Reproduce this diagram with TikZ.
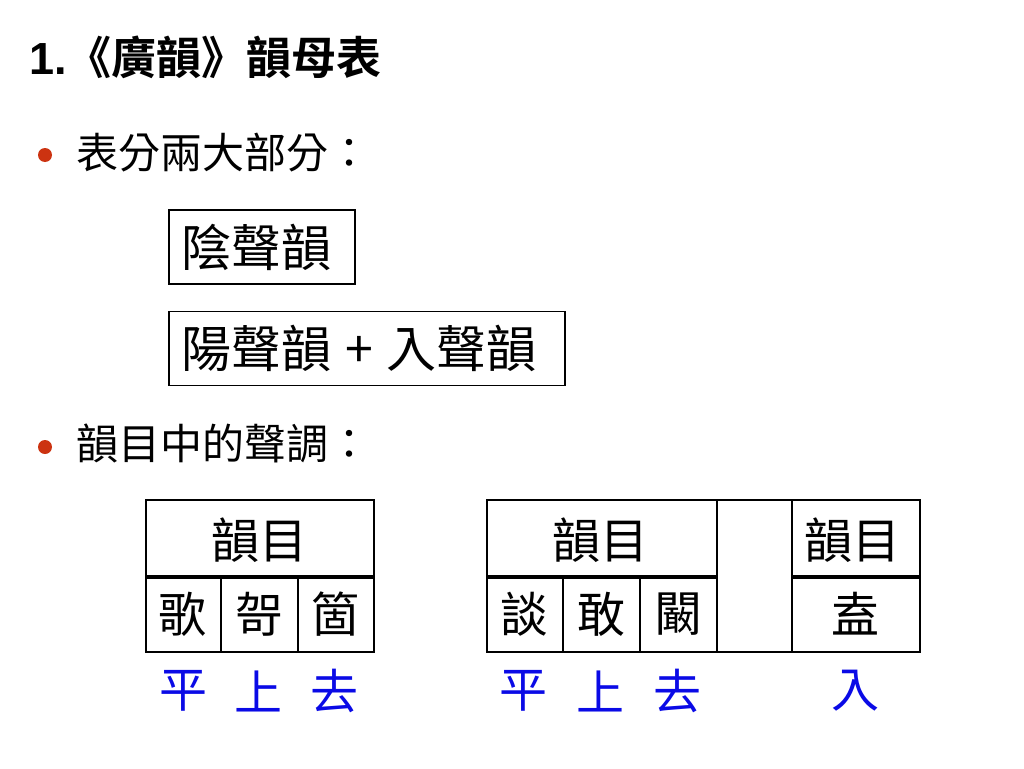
\documentclass[tikz,border=0pt]{standalone}
\usepackage{fontspec}
\setmainfont{Liberation Sans}
\newfontfamily\cjk[BoldFont={Noto Sans CJK TC Bold}]{Noto Sans CJK TC}
\definecolor{dotred}{RGB}{204,51,17}
\definecolor{toneblue}{RGB}{10,10,230}
\tikzset{
    zi/.style={font=\cjk\fontsize{48}{48}\selectfont, inner sep=0pt},
    point/.style={font=\cjk\fontsize{42}{42}\selectfont, inner sep=0pt, anchor=west},
    tone/.style={zi, text=toneblue},
    box/.style={draw, font=\cjk\fontsize{50}{50}\selectfont, line width=1.6pt, inner xsep=12pt, align=left, minimum height=74pt},
    grid/.style={line width=1.4pt},
    split/.style={line width=3.5pt}
}
\begin{document}
\begin{tikzpicture}[x=1pt,y=-1pt]
        \useasboundingbox (0,0) rectangle (1024,768);
        %% Title
        \node[anchor=west, inner sep=0pt] (title) at (29,57)
            {\fontsize{45}{45}\selectfont\bfseries 1.{\cjk\bfseries《廣韻》韻母表}};
        %% Two parts
        \fill[dotred] (45,155) circle (7);
        \node[point] (parts) at (76,153) {表分兩大部分：};
        \node[box, text width=162pt] (yin) at (262,247) {陰聲韻};
        \node[box, text width=372pt] (yang) at (367,348.5) {陽聲韻\hspace{14pt}+\hspace{14pt}入聲韻};
        %% Tones
        \fill[dotred] (45,447) circle (7);
        \node[point] (tones) at (76,443) {韻目中的聲調：};
        %% Table one
        \draw[grid] (146,500) rectangle (374,652);
        \draw[split] (146,577) -- (374,577);
        \foreach \x in {221,298} {
            \draw[grid] (\x,577) -- (\x,652);
        }
        \node[zi] (headA) at (259,540) {韻目};
        \foreach \zi/\x [count=\i] in {歌/182,哿/259,箇/335} {
            \node[zi] (cellA\i) at (\x,614) {\zi};
        }
        \foreach \zi/\x [count=\i] in {平/183,上/258,去/334} {
            \node[tone] (toneA\i) at (\x,691) {\zi};
        }
        %% Table two
        \draw[grid] (487,500) rectangle (920,652);
        \draw[grid] (717,500) -- (717,652);
        \draw[grid] (792,500) -- (792,652);
        \draw[split] (487,577) -- (717,577);
        \draw[split] (792,577) -- (920,577);
        \foreach \x in {563,640} {
            \draw[grid] (\x,577) -- (\x,652);
        }
        \node[zi] (headB) at (600,540) {韻目};
        \node[zi] (headC) at (852,540) {韻目};
        \foreach \zi/\x [count=\i] in {談/524,敢/601,闞/678} {
            \node[zi] (cellB\i) at (\x,614) {\zi};
        }
        \node[zi] (cellC) at (855,614) {盍};
        \foreach \zi/\x [count=\i] in {平/523,上/600,去/677,入/855} {
            \node[tone] (toneB\i) at (\x,691) {\zi};
        }
    \end{tikzpicture}
\end{document}
